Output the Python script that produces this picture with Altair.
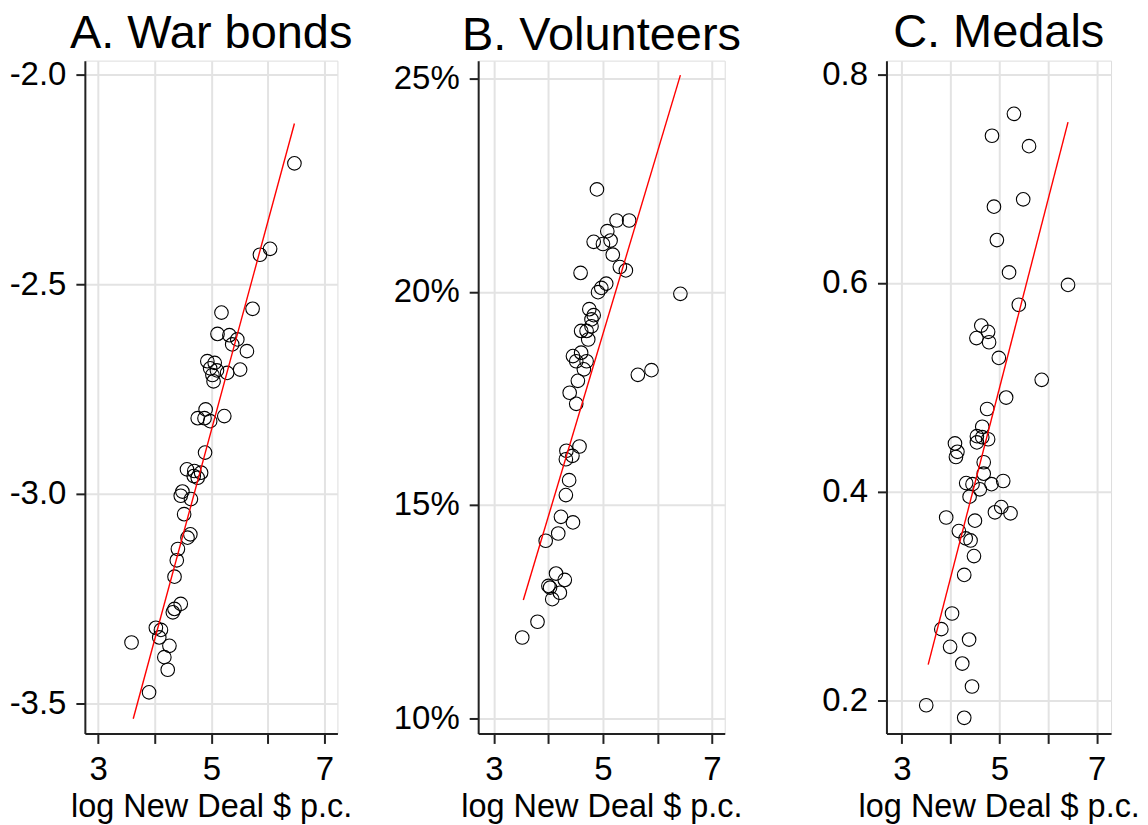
import altair as alt
import pandas as pd

FONT = "Liberation Sans"

# ---- Panel A: War bonds ----
a_x = [6.47, 6.04, 5.86, 5.18, 5.73, 5.11, 5.32, 5.46, 5.37, 5.63, 4.93, 5.06, 4.98, 5.10,
       5.28, 5.51, 5.02, 5.04, 4.90, 4.76, 4.88, 4.98, 5.23, 4.89, 4.57, 4.70, 4.82, 4.69,
       4.76, 4.49, 4.46, 4.64, 4.52, 4.63, 4.58, 4.41, 4.39, 4.35, 4.46, 4.35, 4.32, 4.02,
       4.11, 4.08, 3.59, 4.26, 4.17, 4.23, 3.90]
a_y = [-2.212, -2.416, -2.430, -2.568, -2.559, -2.619, -2.622, -2.632, -2.644, -2.660,
       -2.684, -2.688, -2.701, -2.706, -2.712, -2.704, -2.717, -2.732, -2.799, -2.820,
       -2.820, -2.827, -2.815, -2.902, -2.942, -2.946, -2.950, -2.958, -2.962, -2.995,
       -3.005, -3.013, -3.049, -3.097, -3.105, -3.132, -3.159, -3.198, -3.263, -3.275,
       -3.283, -3.320, -3.325, -3.343, -3.355, -3.363, -3.390, -3.420, -3.474]
fit_a_x = [3.62, 6.47]
fit_a_y = [-3.537, -2.117]

# ---- Panel B: Volunteers (percent) ----
b_x = [4.89, 5.25, 5.48, 5.08, 4.83, 5.00, 5.14, 5.18, 5.31, 5.42, 4.59, 5.06, 4.97, 4.91,
       6.42, 4.75, 4.83, 4.79, 4.79, 4.60, 4.70, 4.73, 4.45, 4.60, 4.51, 4.70, 4.65, 5.89,
       5.64, 4.54, 4.39, 4.51, 4.57, 4.33, 4.44, 4.32, 4.38, 4.32, 4.23, 4.45, 4.18, 3.95,
       4.14, 4.30, 4.00, 4.03, 4.21, 4.07, 3.80, 3.52]
b_y = [22.40, 21.67, 21.67, 21.42, 21.17, 21.12, 21.20, 20.87, 20.58, 20.50, 20.44, 20.19,
       20.09, 19.99, 19.95, 19.59, 19.45, 19.35, 19.19, 19.08, 19.08, 18.88, 18.49, 18.57,
       18.37, 18.37, 18.18, 18.16, 18.05, 17.91, 17.63, 17.37, 16.37, 16.27, 16.15, 16.07,
       15.58, 15.23, 14.72, 14.59, 14.33, 14.16, 13.39, 13.24, 13.10, 13.06, 12.94, 12.79,
       12.26, 11.89]
fit_b_x = [3.54, 6.42]
fit_b_y = [12.77, 25.08]

# ---- Panel C: Medals ----
c_x = [5.30, 4.85, 5.61, 5.49, 4.89, 4.95, 5.20, 6.41, 5.40, 4.63, 4.77, 4.53, 4.79, 4.99,
       5.87, 5.14, 4.75, 4.65, 4.54, 4.65, 4.77, 4.54, 4.09, 4.14, 4.11, 4.68, 4.68, 5.08,
       4.32, 4.45, 4.84, 4.60, 4.39, 5.04, 4.91, 5.23, 3.91, 4.50, 4.17, 4.31, 4.41, 4.48,
       4.28, 4.03, 3.81, 4.38, 3.99, 4.24, 4.44, 3.50, 4.28]
c_y = [0.762, 0.741, 0.731, 0.680, 0.673, 0.641, 0.610, 0.598, 0.579, 0.559, 0.553, 0.547,
       0.543, 0.528, 0.507, 0.490, 0.479, 0.462, 0.453, 0.452, 0.450, 0.447, 0.446, 0.438,
       0.433, 0.428, 0.417, 0.410, 0.408, 0.407, 0.407, 0.402, 0.395, 0.385, 0.380, 0.379,
       0.375, 0.372, 0.362, 0.355, 0.353, 0.338, 0.320, 0.283, 0.268, 0.258, 0.251, 0.235,
       0.213, 0.195, 0.183]
fit_c_x = [3.54, 6.41]
fit_c_y = [0.234, 0.754]

x_ticks = [3, 4, 5, 6, 7]
x_title = "log New Deal $ p.c."


def panel(xs, ys, fx, fy, title, xdom, ydom, yticks, ylabel_expr, width, min_extent):
    pts = pd.DataFrame({"x": xs, "y": ys})
    fit = pd.DataFrame({"x": fx, "y": fy})
    xenc = alt.X(
        "x:Q",
        title=x_title,
        scale=alt.Scale(domain=xdom, nice=False, zero=False),
        axis=alt.Axis(
            values=x_ticks,
            labelExpr="datum.value % 2 == 1 ? format(datum.value, 'd') : ''",
            labelFontSize=33, labelFont=FONT, labelColor="black",
            titleFontSize=32.5, titleFont=FONT, titleFontWeight="normal", titleColor="black",
            titlePadding=4, labelPadding=10,
            tickSize=10, tickWidth=2, tickColor="#222",
            domainColor="#222", domainWidth=2,
            grid=True, gridColor="#e3e3e3", gridWidth=2,
        ),
    )
    yenc = alt.Y(
        "y:Q",
        title=None,
        scale=alt.Scale(domain=ydom, nice=False, zero=False),
        axis=alt.Axis(
            values=yticks,
            labelExpr=ylabel_expr,
            labelFontSize=33, labelFont=FONT, labelColor="black",
            labelPadding=10, tickSize=9, tickWidth=2, tickColor="#222",
            domainColor="#222", domainWidth=2,
            grid=True, gridColor="#e3e3e3", gridWidth=2,
            minExtent=min_extent,
        ),
    )
    points = alt.Chart(pts).mark_point(
        shape="circle", filled=False, color="black", size=185, strokeWidth=1.1, opacity=1
    ).encode(x=xenc, y=yenc)
    line = alt.Chart(fit).mark_line(color="red", strokeWidth=1.4).encode(
        x=alt.X("x:Q"), y=alt.Y("y:Q")
    )
    return alt.layer(points, line).properties(
        width=width,
        height=674,
        title=alt.TitleParams(
            title, fontSize=47, font=FONT, fontWeight="normal", color="black",
            anchor="middle", baseline="top", offset=1,
        ),
    )


neg_fmt = "(datum.value < 0 ? '-' : '') + format(abs(datum.value), '.1f')"

pa = panel(a_x, a_y, fit_a_x, fit_a_y, "A. War bonds", [2.765, 7.23], [-3.572, -1.967],
           [-3.5, -3.0, -2.5, -2.0], neg_fmt, 253, 76)
pb = panel(b_x, b_y, fit_b_x, fit_b_y, "B. Volunteers", [2.712, 7.233], [9.64, 25.42],
           [10, 15, 20, 25], "datum.value + '%'", 247, 114)
pc = panel(c_x, c_y, fit_c_x, fit_c_y, "C. Medals", [2.684, 7.293], [0.168, 0.813],
           [0.2, 0.4, 0.6, 0.8], "format(datum.value, '.1f')", 225, 133)

chart = alt.hconcat(pa, pb, pc, spacing=10, padding=0).configure_view(
    stroke="#222", strokeWidth=2
).configure(background="white")

chart.save("out.html", embed_options={"renderer": "svg", "actions": False})
